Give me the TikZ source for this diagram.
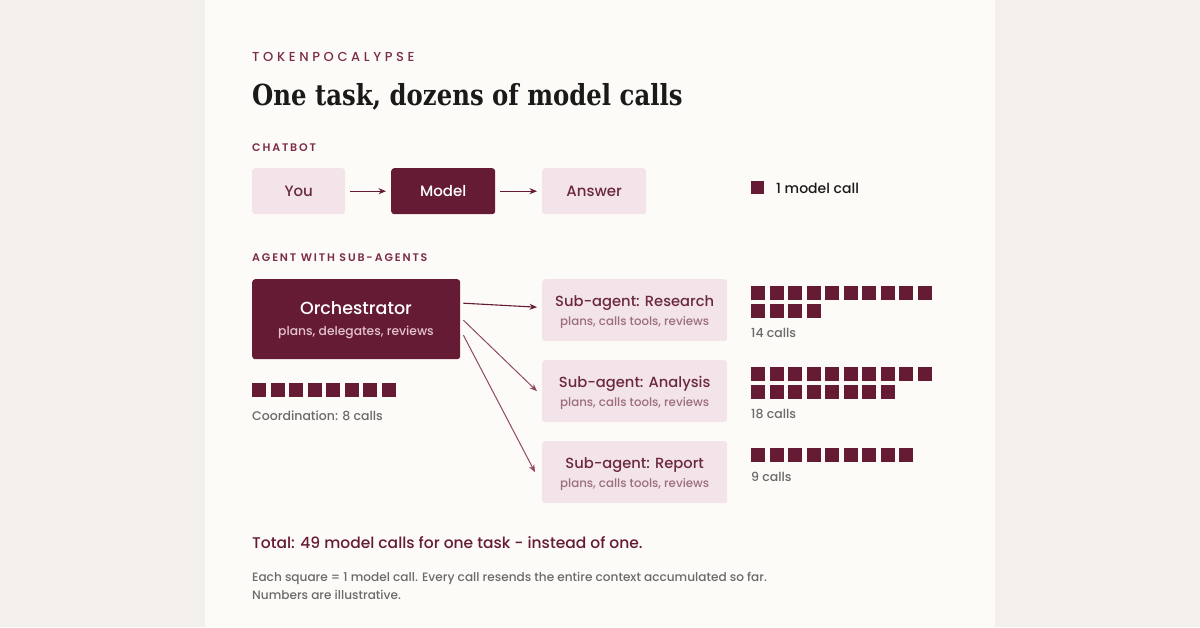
\documentclass[tikz,border=0pt]{standalone}
\usepackage{fontspec}
\setmainfont{Poppins}
\newfontfamily\popmed{Poppins Medium}
\newfontfamily\titlefont[FakeStretch=0.84]{DejaVu Serif}
\newfontfamily\capsfont[LetterSpace=28]{Poppins Medium}
\newfontfamily\seclabelfont[LetterSpace=17]{Poppins SemiBold}
\usetikzlibrary{arrows.meta,calc}
\definecolor{outerbg}{HTML}{F3EFEB}
\definecolor{card}{HTML}{FDFBF8}
\definecolor{dark}{HTML}{661B35}
\definecolor{lightbox}{HTML}{F3E4E9}
\definecolor{labelc}{HTML}{7B2D48}
\definecolor{boxtext}{HTML}{6B2840}
\definecolor{subtext}{HTML}{9B6D7E}
\definecolor{orchsub}{HTML}{E3C3CF}
\definecolor{graytext}{HTML}{6A6A6A}
\definecolor{titlec}{HTML}{1A1A1A}
\definecolor{arrlight}{HTML}{8E4A63}
\tikzset{
  txt/.style={inner sep=0pt, anchor=base west},
  lbox/.style={fill=lightbox, rounded corners=3pt, anchor=north west, text=boxtext, font=\popmed\fontsize{15}{18}\selectfont, align=center, inner sep=0pt},
  dbox/.style={fill=dark, rounded corners=3pt, anchor=north west, text=white, align=center, inner sep=0pt},
  arr/.style={draw=dark, line width=1.1pt, -{Stealth[length=7.5pt,width=6pt]}},
  arrl/.style={draw=arrlight, line width=1pt, -{Stealth[length=7.5pt,width=6pt]}},
  sq/.style={fill=dark},
  seclabel/.style={txt, text=labelc, font=\seclabelfont\fontsize{11}{13}\selectfont},
  callc/.style={txt, text=graytext, font=\popmed\fontsize{12.5}{15}\selectfont},
}
\newcommand{\sqrow}[4]{% x, y, count
  \foreach \i in {1,...,#3} {\fill[sq] ({#1+(\i-1)*18.5},#2) rectangle ++(14,14);}}
\begin{document}
\begin{tikzpicture}[x=1pt,y=-1pt]
\useasboundingbox (0,0) rectangle (1200,627);
\fill[outerbg] (0,0) rectangle (1200,627);
\fill[card] (205,0) rectangle (995,627);

\node[txt, text=labelc, font=\capsfont\fontsize{13}{15}\selectfont] (brand) at (252,61) {TOKENPOCALYPSE};
\node[txt, text=titlec, font=\titlefont\bfseries\fontsize{29}{34}\selectfont] (title) at (252,105) {One task, dozens of model calls};

\node[seclabel] (chatlbl) at (252,151) {CHATBOT};
\node[lbox, minimum width=93pt, minimum height=46pt] (you) at (252,168) {You};
\node[dbox, minimum width=104pt, minimum height=46pt, font=\popmed\fontsize{15}{18}\selectfont] (model) at (391,168) {Model};
\node[lbox, minimum width=104pt, minimum height=46pt] (answer) at (542,168) {Answer};
\draw[arr] ([xshift=5pt]you.east) -- ([xshift=-5pt]model.west);
\draw[arr] ([xshift=5pt]model.east) -- ([xshift=-5pt]answer.west);
\fill[sq] (751,181) rectangle ++(13,13);
\node[txt, text=titlec, font=\popmed\fontsize{14}{17}\selectfont] (legend) at (776,193) {1 model call};

\node[seclabel] (agentlbl) at (252,261) {AGENT WITH SUB-AGENTS};
\node[dbox, minimum width=208pt, minimum height=80pt] (orch) at (252,279) {};
\node[txt, anchor=base, text=white, font=\popmed\fontsize{17.5}{21}\selectfont] (orcht) at (356,314) {Orchestrator};
\node[txt, anchor=base, text=orchsub, font=\popmed\fontsize{12.3}{15}\selectfont] (orchs) at (356,335.5) {plans, delegates, reviews};

\node[lbox, minimum width=185pt, minimum height=62pt] (res) at (542,279) {};
\node[lbox, minimum width=185pt, minimum height=62pt] (ana) at (542,360) {};
\node[lbox, minimum width=185pt, minimum height=62pt] (rep) at (542,441) {};
\foreach \b/\t in {res/Research, ana/Analysis, rep/Report} {
  \node[txt, anchor=base, text=boxtext, font=\popmed\fontsize{14.7}{18}\selectfont] at ([yshift=-27pt]\b.north) {Sub-agent: \t};
  \node[txt, anchor=base, text=subtext, font=\popmed\fontsize{11.8}{14}\selectfont] at ([yshift=-46.5pt]\b.north) {plans, calls tools, reviews};
}
\draw[arr] ([xshift=3pt,yshift=16pt]orch.east) -- ([xshift=-5pt,yshift=3pt]res.west);
\draw[arrl] ([xshift=3pt,yshift=-1pt]orch.east) -- ([xshift=-5pt,yshift=0pt]ana.west);
\draw[arrl] ([xshift=3pt,yshift=-16pt]orch.east) -- ([xshift=-7pt,yshift=0pt]rep.west);

\sqrow{252}{383}{8}{}
\node[callc] (coord) at (252,420) {Coordination: 8 calls};

\sqrow{751}{286}{10}{}
\sqrow{751}{304}{4}{}
\node[callc] (c14) at (751,337) {14 calls};
\sqrow{751}{367}{10}{}
\sqrow{751}{385}{8}{}
\node[callc] (c18) at (751,418) {18 calls};
\sqrow{751}{448}{9}{}
\node[callc] (c9) at (751,481) {9 calls};

\node[txt, text=dark, font=\popmed\fontsize{15.5}{19}\selectfont] (total) at (252,548) {Total: 49 model calls for one task - instead of one.};
\node[txt, text=graytext, font=\popmed\fontsize{12.1}{15}\selectfont] (foot1) at (252,581) {Each square = 1 model call. Every call resends the entire context accumulated so far.};
\node[txt, text=graytext, font=\popmed\fontsize{12.1}{15}\selectfont] (foot2) at (252,599) {Numbers are illustrative.};
\end{tikzpicture}
\end{document}
